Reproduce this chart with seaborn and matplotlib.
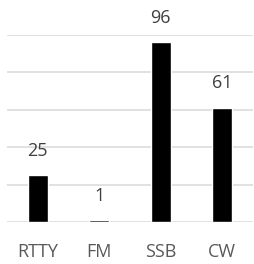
import matplotlib
matplotlib.use('Agg')
import matplotlib.pyplot as plt
import seaborn as sns
import pandas as pd

# chart data
modes = ['RTTY', 'FM', 'SSB', 'CW']
counts = [25, 1, 96, 61]

df = pd.DataFrame({'mode': modes, 'count': counts})

sns.set_style('white')
plt.rcParams['font.family'] = ['Open Sans', 'DejaVu Sans']

fig = plt.figure(figsize=(2.54, 2.64), dpi=100)
ax = fig.add_axes([7 / 254, 42 / 264, 246 / 254, 187.5 / 264])

sns.barplot(data=df, x='mode', y='count', color='black', width=0.32,
            saturation=1, ax=ax, zorder=3)

ax.set_ylim(0, 100)
ax.set_xlim(-0.5, 3.5)
ax.set_yticks(range(0, 101, 20))
ax.yaxis.grid(True, color='#d9d9d9', linewidth=1.1, zorder=0)
ax.set_axisbelow(True)
ax.set_yticklabels([])
ax.tick_params(axis='y', length=0)
ax.tick_params(axis='x', length=0, pad=15, labelsize=13, labelcolor='#595959')
ax.set_xlabel('')
ax.set_ylabel('')
for s in ax.spines.values():
    s.set_visible(False)

for i, v in enumerate(counts):
    ax.annotate(str(v), (i, v), xytext=(0, 11), textcoords='offset points',
                ha='center', va='bottom', fontsize=13, color='#404040',
                annotation_clip=False)

fig.savefig('out.png', dpi=100)
